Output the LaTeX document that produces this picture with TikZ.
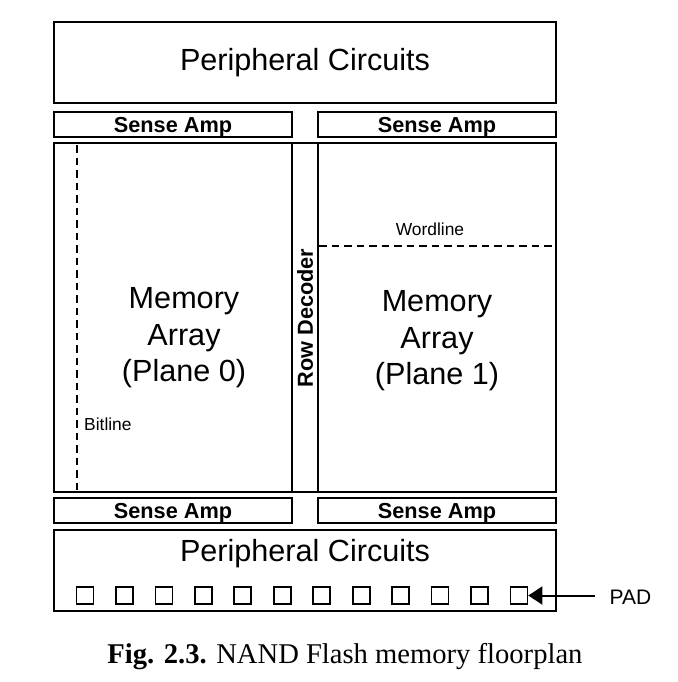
\documentclass[tikz,border=0pt]{standalone}
\usepackage{fontspec}
\setmainfont{Liberation Serif}
\newfontfamily\arial{Liberation Sans}
\usetikzlibrary{positioning,arrows.meta}

\begin{document}
\begin{tikzpicture}[x=1pt, y=-1pt]
\tikzstyle{block}=[draw, line width=2.2pt, inner sep=0pt, font=\arial]
\tikzstyle{big}=[font=\arial\fontsize{30.6}{36.5}\selectfont, align=center]
\tikzstyle{amp}=[font=\arial\bfseries\fontsize{21.7}{26}\selectfont, text height=15.5pt, text depth=0pt]
\tikzstyle{small}=[font=\arial\fontsize{17.4}{20}\selectfont, inner sep=0pt]
\tikzstyle{pad}=[draw, line width=1.7pt, minimum width=17pt, minimum height=17pt, inner sep=0pt]
\tikzstyle{dash line}=[line width=2pt, dash pattern=on 7.5pt off 5pt]
\useasboundingbox (0,0) rectangle (677,682);

% peripheral circuits and sense amps
\node[block, big, minimum width=502pt, minimum height=81pt] (P1) at (305,62.5) {Peripheral Circuits};
\node[block, amp, minimum width=238pt, minimum height=25pt] (S1) at (173,124.5) {Sense Amp};
\node[block, amp, minimum width=238pt, minimum height=25pt] (S2) at (437,124.5) {Sense Amp};

% arrays and row decoder
\node[block, minimum width=238pt, minimum height=349pt] (M0) at (173,317.5) {};
\node[block, minimum width=26pt, minimum height=349pt] (RD) at (305,317.5) {};
\node[block, minimum width=238pt, minimum height=349pt] (M1) at (437,317.5) {};
\node[big] (M0t) at (184,338) {Memory\\Array\\(Plane 0)};
\node[big] (M1t) at (437,341) {Memory\\Array\\(Plane 1)};
\node[amp, rotate=90, inner sep=0pt] (RDt) at (305,318) {Row Decoder};

% bitline / wordline
\draw[dash line] (77,145) -- (77,491);
\draw[dash line] (319,245.7) -- (555,245.7);
\node[small, anchor=base] (WL) at (430,235.7) {Wordline};
\node[small, anchor=base west] (BL) at (84,430) {Bitline};

\node[block, amp, minimum width=238pt, minimum height=25pt] (S3) at (173,510.5) {Sense Amp};
\node[block, amp, minimum width=238pt, minimum height=25pt] (S4) at (437,510.5) {Sense Amp};

% bottom peripheral circuits with pads
\node[block, minimum width=502pt, minimum height=81pt] (P2) at (305,570.5) {};
\node[big, anchor=base] (P2t) at (305,561) {Peripheral Circuits};
\foreach \i in {0,...,11}
  \node[pad] (q\i) at (85+39.45*\i,595.5) {};

\node[font=\arial\fontsize{21}{25}\selectfont, inner sep=0pt] (PAD) at (630.5,597) {PAD};
\draw[-{Triangle[length=14pt, width=18pt]}, line width=2pt] (595,595.5) -- (q11.east);

% caption
\node[anchor=base, font=\fontsize{28.6}{34}\selectfont, inner sep=0pt] (cap) at (345,663)
  {\textbf{Fig. 2.3.} NAND Flash memory floorplan};
\end{tikzpicture}
\end{document}
